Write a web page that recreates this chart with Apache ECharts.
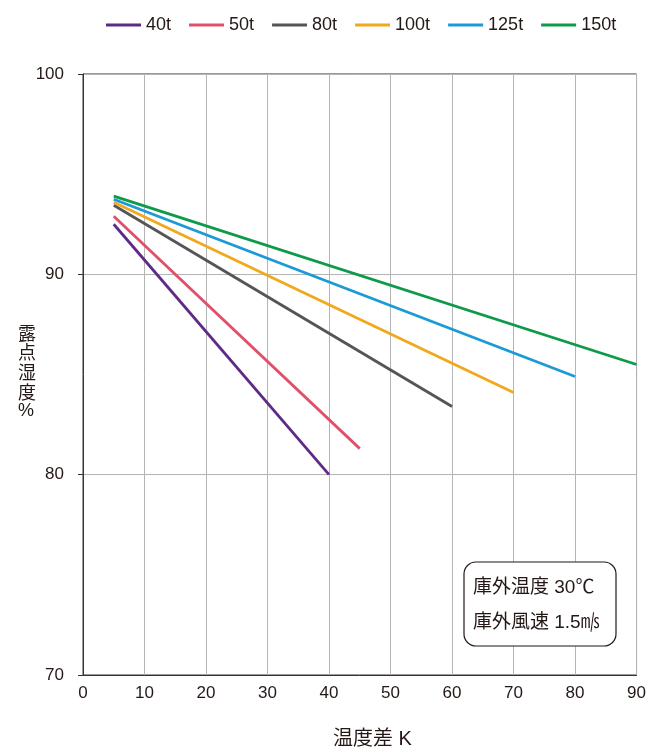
<!DOCTYPE html>
<html>
<head>
<meta charset="utf-8">
<script src="https://cdn.jsdelivr.net/npm/echarts@6/dist/echarts.min.js"></script>
<style>
  html, body { margin: 0; padding: 0; background: #fff; }
  #chart { width: 649px; height: 752px; }
</style>
</head>
<body>
<div id="chart"></div>
<script>
// Dew-point humidity vs. temperature difference, by cooling capacity
const seriesNames = ['40t', '50t', '80t', '100t', '125t', '150t'];
const seriesColors = ['#5e2a87', '#e0506a', '#555555', '#f2a81d', '#1b9ad7', '#0e9a4a'];
// [temperature difference K, dew-point humidity %] at start and end of each line
const line40 = [[5, 92.5], [40, 80.0]];
const line50 = [[5, 92.9], [45, 81.3]];
const line80 = [[5, 93.45], [60, 83.4]];
const line100 = [[5, 93.6], [70, 84.1]];
const line125 = [[5, 93.75], [80, 84.9]];
const line150 = [[5, 93.9], [90, 85.5]];
const seriesData = [line40, line50, line80, line100, line125, line150];

const xTicks = { min: 0, max: 90, interval: 10 };
const yTicks = { min: 70, max: 100, interval: 10 };

const yAxisTitle = ['露', '点', '湿', '度', '%'];
const xAxisTitle = '温度差 K';
const noteLines = ['庫外温度 30℃', '庫外風速 1.5㎧'];

const font = '"Liberation Sans", "Noto Sans CJK JP", sans-serif';
const cjkFont = '"Noto Sans CJK JP", sans-serif';
const textColor = '#231815';
const axisColor = '#3a3232';
const gridColor = '#b4b4b4';

const chart = echarts.init(document.getElementById('chart'), null, { renderer: 'canvas' });

const graphics = [];
// vertical y-axis title, one glyph per row
yAxisTitle.forEach((ch, i) => {
  graphics.push({
    type: 'text',
    id: 'ytitle' + i,
    left: 18, top: 324 + i * 19.6,
    style: {
      text: ch, font: '18px ' + (ch === '%' ? font : cjkFont), fill: textColor
    }
  });
});
graphics.push({
  type: 'text',
  id: 'xtitle',
  left: 333, top: 729,
  style: {
    text: xAxisTitle, font: '20px ' + font, fill: textColor
  }
});
// condition note box
graphics.push({
  type: 'rect',
  id: 'noteBox',
  shape: { x: 464, y: 562, width: 152, height: 84, r: 12 },
  style: { fill: '#ffffff', stroke: '#231815', lineWidth: 1.2 },
  z: 20
});
noteLines.forEach((t, i) => {
  graphics.push({
    type: 'text',
    id: 'note' + i,
    x: 473, y: 588 + i * 35,
    style: {
      text: t, font: '19px ' + font, fill: textColor,
      align: 'left', verticalAlign: 'middle'
    },
    z: 21
  });
});

chart.setOption({
  animation: false,
  backgroundColor: '#ffffff',
  textStyle: { fontFamily: font, color: textColor },
  legend: {
    top: 11,
    left: 101,
    itemWidth: 35,
    itemHeight: 3,
    itemGap: 18,
    icon: 'rect',
    textStyle: { fontSize: 18, color: textColor, fontFamily: font },
    data: seriesNames
  },
  grid: {
    left: 83, right: 11, top: 74, bottom: 77,
    show: true, borderColor: axisColor, borderWidth: 1
  },
  xAxis: {
    type: 'value',
    min: xTicks.min, max: xTicks.max, interval: xTicks.interval,
    axisLine: { show: true, lineStyle: { color: axisColor, width: 1 } },
    axisTick: { show: false },
    axisLabel: { fontSize: 17, color: textColor, margin: 10, fontFamily: font },
    splitLine: { show: true, lineStyle: { color: gridColor, width: 1 } }
  },
  yAxis: {
    type: 'value',
    min: yTicks.min, max: yTicks.max, interval: yTicks.interval,
    axisLine: { show: true, lineStyle: { color: axisColor, width: 1 } },
    axisTick: { show: true, length: 5, inside: false, lineStyle: { color: axisColor } },
    axisLabel: { fontSize: 17, color: textColor, margin: 19, fontFamily: font },
    splitLine: { show: true, lineStyle: { color: gridColor, width: 1 } }
  },
  series: seriesNames.map((name, i) => ({
    name: name,
    type: 'line',
    data: seriesData[i],
    showSymbol: false,
    symbol: 'none',
    color: seriesColors[i],
    lineStyle: { width: 2.8, color: seriesColors[i], cap: 'butt' },
    z: 3 + i
  })),
  graphic: graphics
});
</script>
</body>
</html>
